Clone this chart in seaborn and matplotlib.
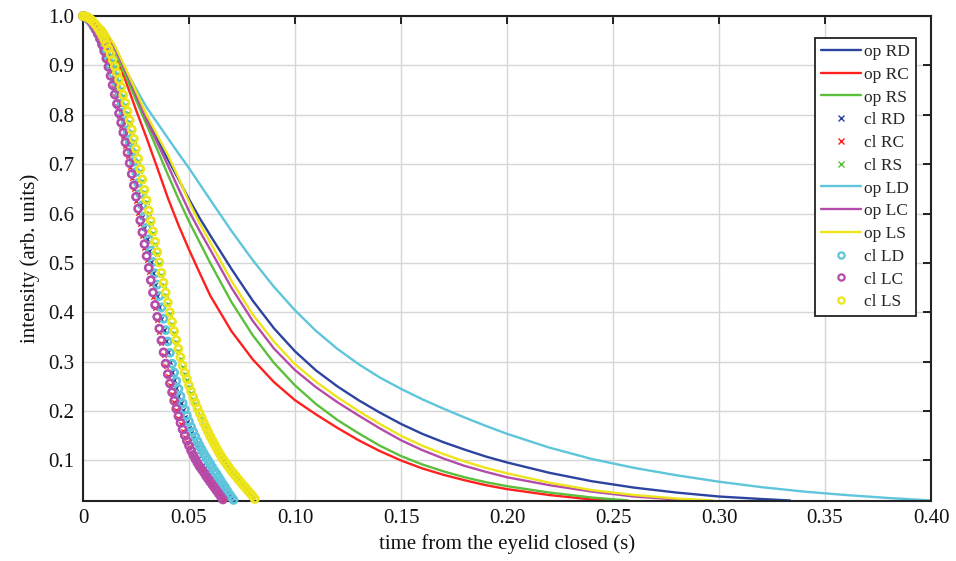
import numpy as np
import matplotlib
matplotlib.use("Agg")
import matplotlib.pyplot as plt
import seaborn as sns
from matplotlib.lines import Line2D

# ---------------- data ----------------
# open-eye curves ("op"): time (s) and intensity
t_op_RD = [0, .005, .01, .015, .02, .025, .03, .035, .04, .045, .05, .055, .06, .07, .08, .09, .10, .11, .12, .13,
           .14, .15, .16, .17, .18, .19, .20, .22, .24, .26, .28, .30, .32, .3335]
op_RD = [1.0, .993, .972, .935, .888, .838, .793, .752, .71, .67, .629, .591, .556, .488, .424, .368, .321, .282, .250, .222,
         .197, .174, .154, .137, .122, .108, .096, .075, .058, .045, .035, .027, .022, .019]

t_op_RC = [0, .005, .01, .015, .02, .025, .03, .035, .04, .045, .05, .055, .06, .07, .08, .09, .10, .11, .12, .13,
           .14, .15, .16, .17, .18, .19, .20, .22, .24, .247]
op_RC = [1.0, .99, .965, .92, .87, .81, .753, .693, .632, .577, .527, .48, .434, .362, .305, .259, .222, .193, .166, .141,
         .119, .100, .084, .071, .060, .050, .042, .030, .021, .019]

t_op_RS = [0, .005, .01, .015, .02, .025, .03, .035, .04, .045, .05, .055, .06, .07, .08, .09, .10, .11, .12, .13,
           .14, .15, .16, .17, .18, .19, .20, .22, .24, .257]
op_RS = [1.0, .992, .97, .93, .88, .83, .78, .73, .679, .63, .584, .542, .50, .421, .354, .298, .252, .214, .182, .155,
         .130, .109, .092, .078, .066, .056, .048, .035, .025, .019]

t_op_LD = [0, .005, .01, .015, .02, .025, .03, .035, .04, .045, .05, .055, .06, .07, .08, .09, .10, .11, .12, .13,
           .14, .15, .16, .17, .18, .19, .20, .22, .24, .26, .28, .30, .32, .34, .36, .38, .40]
op_LD = [1.0, .991, .966, .93, .892, .853, .815, .784, .753, .722, .692, .660, .628, .565, .506, .452, .404, .362, .326, .295,
         .268, .245, .224, .205, .187, .170, .154, .126, .103, .085, .070, .057, .046, .037, .030, .024, .019]

t_op_LC = [0, .005, .01, .015, .02, .025, .03, .035, .04, .045, .05, .055, .06, .07, .08, .09, .10, .11, .12, .13,
           .14, .15, .16, .17, .18, .19, .20, .22, .24, .26, .28, .288]
op_LC = [1.0, .993, .972, .935, .89, .84, .789, .744, .698, .651, .605, .565, .527, .450, .383, .327, .283, .248, .218, .191,
         .165, .141, .121, .104, .089, .077, .066, .050, .037, .027, .021, .019]

t_op_LS = [0, .005, .01, .015, .02, .025, .03, .035, .04, .045, .05, .055, .06, .07, .08, .09, .10, .11, .12, .13,
           .14, .15, .16, .17, .18, .19, .20, .22, .24, .26, .28, .297]
op_LS = [1.0, .994, .975, .94, .895, .848, .80, .759, .719, .673, .624, .58, .542, .464, .396, .341, .295, .259, .228, .200,
         .174, .150, .130, .113, .098, .085, .074, .055, .040, .030, .023, .019]

# closed-eye curves ("cl"): sampled every 1 ms from t = 0
sample_step = 0.001
cl_RD = [1.000, .998, .995, .990, .984, .977, .969, .960, .950, .939,
         .927, .915, .902, .888, .873, .857, .840, .822, .804, .785,
         .766, .746, .726, .705, .684, .662, .640, .617, .594, .571,
         .548, .525, .502, .479, .456, .433, .410, .387, .364, .342,
         .320, .299, .280, .262, .246, .230, .216, .202, .189, .177,
         .166, .155, .145, .136, .127, .119, .111, .104, .097, .090,
         .083, .077, .070, .064, .058, .052, .046, .040, .034, .028,
         .022]
cl_RC = [1.000, .999, .996, .992, .987, .980, .972, .962, .951, .939,
         .926, .911, .894, .876, .857, .838, .818, .798, .778, .758,
         .737, .716, .694, .672, .649, .626, .602, .578, .554, .530,
         .506, .482, .457, .432, .408, .384, .360, .337, .314, .292,
         .272, .253, .235, .218, .202, .187, .173, .160, .148, .137,
         .127, .117, .108, .100, .092, .085, .079, .073, .067, .061,
         .055, .049, .043, .037, .031, .025, .020]
cl_RS = [1.000, .999, .997, .995, .991, .986, .981, .975, .968, .960,
         .951, .942, .932, .921, .909, .896, .882, .868, .853, .837,
         .820, .803, .785, .766, .747, .727, .707, .686, .665, .644,
         .623, .602, .581, .560, .539, .518, .497, .476, .456, .436,
         .416, .396, .377, .358, .340, .322, .305, .289, .275, .262,
         .249, .237, .225, .214, .203, .193, .183, .174, .165, .156,
         .147, .139, .131, .123, .116, .109, .102, .096, .090, .084,
         .078, .073, .068, .062, .057, .052, .047, .042, .037, .032,
         .027]
cl_LD = [1.000, .999, .995, .991, .986, .979, .972, .964, .955, .945,
         .934, .923, .911, .898, .884, .869, .853, .836, .818, .800,
         .782, .763, .744, .725, .705, .684, .662, .640, .617, .594,
         .571, .548, .525, .502, .479, .456, .433, .410, .387, .364,
         .341, .318, .296, .278, .261, .245, .230, .216, .203, .191,
         .179, .168, .158, .148, .139, .130, .122, .114, .107, .100,
         .093, .086, .079, .073, .066, .059, .052, .046, .039, .032,
         .026, .020]
cl_LC = [1.000, .999, .997, .993, .988, .981, .973, .964, .954, .942,
         .929, .914, .897, .879, .860, .841, .822, .803, .784, .764,
         .744, .723, .702, .680, .657, .634, .610, .586, .562, .538,
         .514, .490, .465, .440, .415, .391, .367, .343, .319, .296,
         .275, .256, .238, .221, .205, .190, .176, .163, .151, .140,
         .130, .120, .111, .103, .095, .088, .082, .076, .069, .063,
         .057, .051, .045, .039, .033, .027, .021]
cl_LS = [1.000, .999, .998, .995, .992, .987, .982, .976, .969, .961,
         .953, .944, .934, .923, .911, .898, .885, .871, .856, .840,
         .824, .807, .789, .770, .751, .731, .711, .690, .669, .648,
         .627, .606, .585, .564, .543, .522, .501, .480, .460, .440,
         .420, .400, .381, .362, .344, .326, .309, .292, .278, .265,
         .252, .240, .228, .217, .206, .196, .186, .176, .167, .158,
         .149, .141, .133, .125, .117, .110, .103, .097, .091, .085,
         .079, .074, .069, .063, .058, .053, .048, .043, .038, .033,
         .028, .022]

x_ticks = [0, 0.05, 0.10, 0.15, 0.20, 0.25, 0.30, 0.35, 0.40]
x_ticklabels = ["0", "0.05", "0.10", "0.15", "0.20", "0.25", "0.30", "0.35", "0.40"]
y_ticks = [0.1, 0.2, 0.3, 0.4, 0.5, 0.6, 0.7, 0.8, 0.9, 1.0]
y_ticklabels = ["0.1", "0.2", "0.3", "0.4", "0.5", "0.6", "0.7", "0.8", "0.9", "1.0"]

colors = {
    "RD": "#2C44A0",
    "RC": "#FF2020",
    "RS": "#5CBF3C",
    "LD": "#5EC5DA",
    "LC": "#B44CAC",
    "LS": "#EDE51A",
}

# ---------------- plot ----------------
sns.set_theme(style="whitegrid")
plt.rcParams["font.family"] = ["Liberation Serif", "DejaVu Serif"]

fig, ax = plt.subplots(figsize=(9.56, 5.61), dpi=100)
fig.subplots_adjust(left=0.0868, right=0.9739, top=0.9715, bottom=0.107)

line_kw = dict(lw=1.7, estimator=None, sort=False, legend=False)


def times(vals):
    return np.arange(len(vals)) * sample_step


def op_line(t, v, key):
    sns.lineplot(x=t, y=v, ax=ax, color=colors[key], **line_kw)


def cl_cross(v, key):
    sns.scatterplot(x=times(v), y=v, ax=ax, marker="x", s=10, color=colors[key],
                    linewidth=1.0, legend=False, clip_on=False, zorder=3)


def cl_circle(v, key):
    sns.scatterplot(x=times(v), y=v, ax=ax, marker="o", s=26, color=colors[key],
                    facecolor="none", edgecolor=colors[key], linewidth=1.9,
                    legend=False, clip_on=False, zorder=4)


op_line(t_op_RD, op_RD, "RD")
op_line(t_op_RC, op_RC, "RC")
op_line(t_op_RS, op_RS, "RS")
cl_cross(cl_RD, "RD")
cl_cross(cl_RC, "RC")
cl_cross(cl_RS, "RS")
op_line(t_op_LD, op_LD, "LD")
op_line(t_op_LC, op_LC, "LC")
op_line(t_op_LS, op_LS, "LS")
cl_circle(cl_LD, "LD")
cl_circle(cl_LC, "LC")
cl_circle(cl_LS, "LS")

ax.set_xlim(0, 0.40)
ax.set_ylim(0.018, 1.0)
ax.set_xticks(x_ticks)
ax.set_xticklabels(x_ticklabels)
ax.set_yticks(y_ticks)
ax.set_yticklabels(y_ticklabels)
ax.set_xlabel("time from the eyelid closed (s)", fontsize=15, color="#111111", labelpad=4)
ax.set_ylabel("intensity (arb. units)", fontsize=15, color="#111111", labelpad=6)

ax.grid(True, color="#d6d6d6", lw=1.0)
ax.tick_params(axis="both", direction="in", length=6, width=1.3, top=True, right=True,
               labelsize=15, colors="#111111", pad=6)
for sp in ax.spines.values():
    sp.set_visible(True)
    sp.set_color("#222222")
    sp.set_linewidth(1.5)

handles, labels = [], []
for key in ["RD", "RC", "RS"]:
    handles.append(Line2D([], [], color=colors[key], lw=1.7))
    labels.append("op " + key)
for key in ["RD", "RC", "RS"]:
    handles.append(Line2D([], [], color=colors[key], marker="x", ls="none", ms=4, mew=1.0))
    labels.append("cl " + key)
for key in ["LD", "LC", "LS"]:
    handles.append(Line2D([], [], color=colors[key], lw=1.7))
    labels.append("op " + key)
for key in ["LD", "LC", "LS"]:
    handles.append(Line2D([], [], color=colors[key], marker="o", ls="none", ms=4.5,
                          mfc="none", mec=colors[key], mew=1.6))
    labels.append("cl " + key)

leg = ax.legend(handles, labels, loc="upper right", bbox_to_anchor=(0.982, 0.955),
                fontsize=12.5, frameon=True, fancybox=False, framealpha=1,
                edgecolor="#222222", handlelength=2.3, handletextpad=0.15,
                labelspacing=0.38, borderpad=0.35, borderaxespad=0)
leg.get_frame().set_linewidth(1.3)

fig.savefig("out.png", dpi=100)
